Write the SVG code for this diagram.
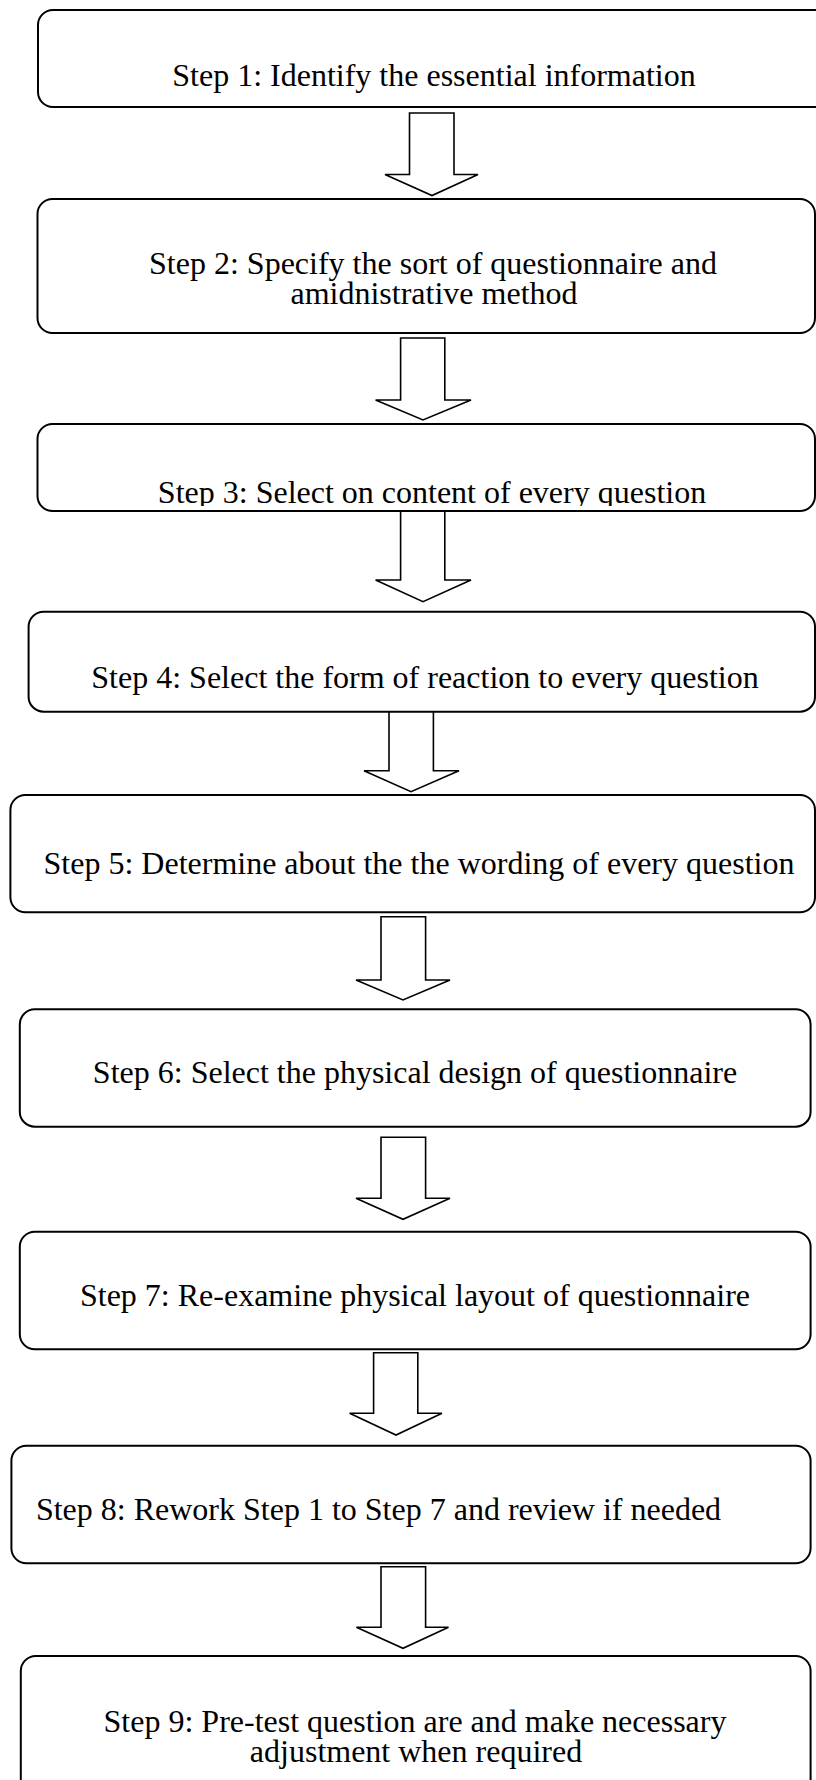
<svg xmlns="http://www.w3.org/2000/svg" width="816" height="1780" viewBox="0 0 816 1780">
<style>
.box{fill:#fff;stroke:#000;stroke-width:2}
.arr{fill:#fff;stroke:#000;stroke-width:1.6;stroke-linejoin:miter}
.t{font-family:"Liberation Serif","Times New Roman",serif;font-size:32px;fill:#000;text-anchor:middle}
</style>
<defs>
<clipPath id="c3"><rect x="0" y="424" width="816" height="82"/></clipPath>
</defs>
<rect width="816" height="1780" fill="#fff"/>
<g id="connectors">
<polygon class="arr" points="409.5,113 454,113 454,174.5 478,174.5 432,195.5 385,174.5 409.5,174.5"/>
<polygon class="arr" points="400.6,338 444.8,338 444.8,400 471,400 423,420 375.6,400 400.6,400"/>
<polygon class="arr" points="400.6,511 444.8,511 444.8,580 471,580 423,601.7 375.6,580 400.6,580"/>
<polygon class="arr" points="389,709 433.4,709 433.4,770.7 459,770.7 411,791.7 364,770.7 389,770.7"/>
<polygon class="arr" points="381,916.7 425.6,916.7 425.6,980 450,980 403,1000 356,980 381,980"/>
<polygon class="arr" points="381,1137.3 425.6,1137.3 425.6,1198.3 450,1198.3 403,1219.3 356,1198.3 381,1198.3"/>
<polygon class="arr" points="373.6,1352.7 417.8,1352.7 417.8,1413.3 442,1413.3 396,1435 349.6,1413.3 373.6,1413.3"/>
<polygon class="arr" points="381,1566.7 425.6,1566.7 425.6,1627.3 448.5,1627.3 403,1648.3 356.4,1627.3 381,1627.3"/>
</g>
<g id="step1">
<rect class="box" x="38" y="10" width="800" height="97" rx="15"/>
<text class="t" x="434" y="86">Step 1: Identify the essential information</text>
</g>
<g id="step2">
<rect class="box" x="37.5" y="199" width="777.5" height="134" rx="15"/>
<text class="t" x="433" y="274">Step 2: Specify the sort of questionnaire and</text>
<text class="t" x="434" y="304">amidnistrative method</text>
</g>
<g id="step3">
<rect class="box" x="37.5" y="424" width="777.5" height="87" rx="15"/>
<text class="t" x="432" y="503" clip-path="url(#c3)">Step 3: Select on content of every question</text>
</g>
<g id="step4">
<rect class="box" x="28.6" y="611.7" width="786.4" height="100" rx="15"/>
<text class="t" x="425" y="688">Step 4: Select the form of reaction to every question</text>
</g>
<g id="step5">
<rect class="box" x="10.4" y="795" width="804.6" height="117.3" rx="15"/>
<text class="t" x="419" y="874">Step 5: Determine about the the wording of every question</text>
</g>
<g id="step6">
<rect class="box" x="19.8" y="1009.3" width="790.8" height="117.4" rx="15"/>
<text class="t" x="415" y="1083">Step 6: Select the physical design of questionnaire</text>
</g>
<g id="step7">
<rect class="box" x="19.8" y="1231.7" width="790.8" height="117.6" rx="15"/>
<text class="t" x="415" y="1306">Step 7: Re-examine physical layout of questionnaire</text>
</g>
<g id="step8">
<rect class="box" x="11.4" y="1445.7" width="799.2" height="117.6" rx="15"/>
<text class="t" x="378.5" y="1520">Step 8: Rework Step 1 to Step 7 and review if needed</text>
</g>
<g id="step9">
<rect class="box" x="20.8" y="1656" width="789.8" height="150" rx="15"/>
<text class="t" x="415" y="1732">Step 9: Pre-test question are and make necessary</text>
<text class="t" x="416" y="1762">adjustment when required</text>
</g>
</svg>
